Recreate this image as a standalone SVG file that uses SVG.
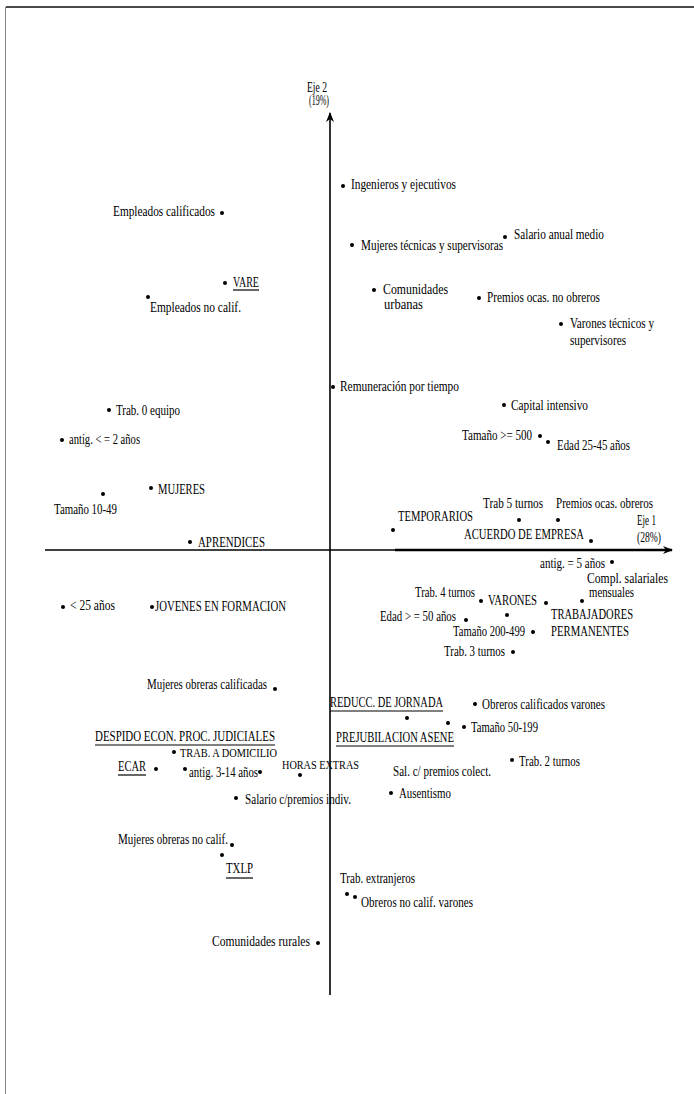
<svg xmlns="http://www.w3.org/2000/svg" width="694" height="1094" viewBox="0 0 694 1094">
<style>
text{font-family:"Liberation Serif","Times New Roman",serif;font-size:14px;fill:#000}
.d{fill:#000}
.u{stroke:#000;stroke-width:1.2}
.s{font-size:13px}
</style>
<defs>
<marker id="ah" viewBox="0 0 10 10" refX="9" refY="5" markerWidth="10" markerHeight="10" markerUnits="userSpaceOnUse" orient="auto"><path d="M0,1 L10,5 L0,9 L3,5 z" fill="#000"/></marker>
</defs>
<rect width="694" height="1094" fill="#fff"/>
<path d="M5.5,1094 V7 H694" fill="none" stroke="#888" stroke-width="1"/>
<path d="M6,7 H694" stroke="#222" stroke-width="1.5"/>
<g id="connectors">
<line x1="330" y1="995" x2="330" y2="113" stroke="#000" stroke-width="1.6" marker-end="url(#ah)"/>
<line x1="45" y1="550" x2="395" y2="550" stroke="#000" stroke-width="1.5"/>
<line x1="395" y1="550" x2="672" y2="550" stroke="#000" stroke-width="2.5" marker-end="url(#ah)"/>
</g>
<g id="eje2"><text x="307" y="92" textLength="20" lengthAdjust="spacingAndGlyphs">Eje 2</text><text x="309" y="105" textLength="20" lengthAdjust="spacingAndGlyphs">(19%)</text></g>
<g id="eje1"><text x="637" y="525" textLength="19" lengthAdjust="spacingAndGlyphs">Eje 1</text><text x="637" y="542" textLength="24" lengthAdjust="spacingAndGlyphs">(28%)</text></g>

<g id="p1"><circle class="d" cx="343" cy="186" r="2"/><text x="351" y="189" textLength="105" lengthAdjust="spacingAndGlyphs">Ingenieros y ejecutivos</text></g>
<g id="p2"><text x="113" y="216" textLength="102" lengthAdjust="spacingAndGlyphs">Empleados calificados</text><circle class="d" cx="222" cy="213" r="2"/></g>
<g id="p3"><circle class="d" cx="352" cy="245" r="2"/><text x="361" y="250" textLength="142" lengthAdjust="spacingAndGlyphs">Mujeres técnicas y supervisoras</text></g>
<g id="p4"><circle class="d" cx="505" cy="237" r="2"/><text x="514" y="239" textLength="90" lengthAdjust="spacingAndGlyphs">Salario anual medio</text></g>
<g id="p5"><circle class="d" cx="225" cy="283" r="2"/><text x="233" y="287" textLength="26" lengthAdjust="spacingAndGlyphs">VARE</text><line class="u" x1="233" y1="290" x2="259" y2="290"/></g>
<g id="p6"><circle class="d" cx="148" cy="297" r="2"/><text x="150" y="312" textLength="91" lengthAdjust="spacingAndGlyphs">Empleados no calif.</text></g>
<g id="p7"><circle class="d" cx="374" cy="290" r="2"/><text x="383" y="294" textLength="65" lengthAdjust="spacingAndGlyphs">Comunidades</text><text x="384" y="309" textLength="39" lengthAdjust="spacingAndGlyphs">urbanas</text></g>
<g id="p8"><circle class="d" cx="479" cy="298" r="2"/><text x="487" y="302" textLength="113" lengthAdjust="spacingAndGlyphs">Premios ocas. no obreros</text></g>
<g id="p9"><circle class="d" cx="561" cy="324" r="2"/><text x="570" y="328" textLength="84" lengthAdjust="spacingAndGlyphs">Varones técnicos y</text><text x="570" y="345" textLength="56" lengthAdjust="spacingAndGlyphs">supervisores</text></g>
<g id="p10"><circle class="d" cx="333" cy="387" r="2"/><text x="340" y="391" textLength="119" lengthAdjust="spacingAndGlyphs">Remuneración por tiempo</text></g>
<g id="p11"><circle class="d" cx="504" cy="405" r="2"/><text x="511" y="410" textLength="77" lengthAdjust="spacingAndGlyphs">Capital intensivo</text></g>
<g id="p12"><circle class="d" cx="109" cy="410" r="2"/><text x="116" y="415" textLength="64" lengthAdjust="spacingAndGlyphs">Trab. 0 equipo</text></g>
<g id="p13"><circle class="d" cx="62" cy="440" r="2"/><text x="69" y="444" textLength="71" lengthAdjust="spacingAndGlyphs">antig. &lt; = 2 años</text></g>
<g id="p14"><text x="462" y="440" textLength="70" lengthAdjust="spacingAndGlyphs">Tamaño &gt;= 500</text><circle class="d" cx="540" cy="436" r="2"/></g>
<g id="p15"><circle class="d" cx="548" cy="442" r="2"/><text x="557" y="450" textLength="73" lengthAdjust="spacingAndGlyphs">Edad 25-45 años</text></g>
<g id="p16"><circle class="d" cx="151" cy="488" r="2"/><text x="158" y="494" textLength="47" lengthAdjust="spacingAndGlyphs">MUJERES</text></g>
<g id="p17"><circle class="d" cx="103" cy="494" r="2"/><text x="54" y="514" textLength="63" lengthAdjust="spacingAndGlyphs">Tamaño 10-49</text></g>
<g id="p18"><text x="483" y="508" textLength="60" lengthAdjust="spacingAndGlyphs">Trab 5 turnos</text><circle class="d" cx="519" cy="520" r="2"/></g>
<g id="p19"><text x="556" y="508" textLength="97" lengthAdjust="spacingAndGlyphs">Premios ocas. obreros</text><circle class="d" cx="558" cy="520" r="2"/></g>
<g id="p20"><text x="398" y="521" textLength="75" lengthAdjust="spacingAndGlyphs">TEMPORARIOS</text><circle class="d" cx="393" cy="530" r="2"/></g>
<g id="p21"><text x="464" y="539" textLength="120" lengthAdjust="spacingAndGlyphs">ACUERDO DE EMPRESA</text><circle class="d" cx="591" cy="541" r="2"/></g>
<g id="p23"><circle class="d" cx="190" cy="542" r="2"/><text x="198" y="547" textLength="67" lengthAdjust="spacingAndGlyphs">APRENDICES</text></g>
<g id="p24"><text x="540" y="568" textLength="65" lengthAdjust="spacingAndGlyphs">antig. = 5 años</text><circle class="d" cx="612" cy="562" r="2"/></g>
<g id="p25"><text x="587" y="583" textLength="81" lengthAdjust="spacingAndGlyphs">Compl. salariales</text><text x="589" y="597" textLength="45" lengthAdjust="spacingAndGlyphs">mensuales</text><circle class="d" cx="582" cy="601" r="2"/></g>
<g id="p26"><text x="415" y="597" textLength="60" lengthAdjust="spacingAndGlyphs">Trab. 4 turnos</text><circle class="d" cx="481" cy="601" r="2"/></g>
<g id="p27"><text x="488" y="605" textLength="49" lengthAdjust="spacingAndGlyphs">VARONES</text><circle class="d" cx="546" cy="603" r="2"/></g>
<g id="p28"><text x="380" y="621" textLength="76" lengthAdjust="spacingAndGlyphs">Edad &gt; = 50 años</text><circle class="d" cx="466" cy="620" r="2"/></g>
<g id="p29"><circle class="d" cx="507" cy="615" r="2"/><text x="453" y="636" textLength="72" lengthAdjust="spacingAndGlyphs">Tamaño 200-499</text><circle class="d" cx="533" cy="632" r="2"/></g>
<g id="p30"><text x="551" y="619" textLength="82" lengthAdjust="spacingAndGlyphs">TRABAJADORES</text><text x="551" y="636" textLength="78" lengthAdjust="spacingAndGlyphs">PERMANENTES</text></g>
<g id="p31"><text x="444" y="656" textLength="61" lengthAdjust="spacingAndGlyphs">Trab. 3 turnos</text><circle class="d" cx="513" cy="652" r="2"/></g>
<g id="p32"><circle class="d" cx="63" cy="607" r="2"/><text x="70" y="610" textLength="45" lengthAdjust="spacingAndGlyphs">&lt; 25 años</text></g>
<g id="p33"><circle class="d" cx="152" cy="607" r="2"/><text x="155" y="611" textLength="131" lengthAdjust="spacingAndGlyphs">JOVENES EN FORMACION</text></g>
<g id="p34"><text x="147" y="689" textLength="120" lengthAdjust="spacingAndGlyphs">Mujeres obreras calificadas</text><circle class="d" cx="275" cy="689" r="2"/></g>
<g id="p35"><text x="330" y="707" textLength="113" lengthAdjust="spacingAndGlyphs">REDUCC. DE JORNADA</text><line class="u" x1="330" y1="711" x2="443" y2="711"/><circle class="d" cx="407" cy="718" r="2"/></g>
<g id="p36"><circle class="d" cx="475" cy="704" r="2"/><text x="482" y="709" textLength="123" lengthAdjust="spacingAndGlyphs">Obreros calificados varones</text></g>
<g id="p37"><circle class="d" cx="448" cy="723" r="2"/></g>
<g id="p38"><circle class="d" cx="464" cy="727" r="2"/><text x="471" y="732" textLength="67" lengthAdjust="spacingAndGlyphs">Tamaño 50-199</text></g>
<g id="p39"><text x="336" y="742" textLength="118" lengthAdjust="spacingAndGlyphs">PREJUBILACION ASENE</text><line class="u" x1="336" y1="746" x2="454" y2="746"/></g>
<g id="p40"><text x="95" y="741" textLength="180" lengthAdjust="spacingAndGlyphs">DESPIDO ECON. PROC. JUDICIALES</text><line class="u" x1="95" y1="745" x2="275" y2="745"/></g>
<g id="p41"><circle class="d" cx="174" cy="752" r="2"/><text class="s" x="180" y="757" textLength="97" lengthAdjust="spacingAndGlyphs">TRAB. A DOMICILIO</text></g>
<g id="p42"><text x="118" y="771" textLength="28" lengthAdjust="spacingAndGlyphs">ECAR</text><line class="u" x1="118" y1="775" x2="146" y2="775"/><circle class="d" cx="156" cy="769" r="2"/></g>
<g id="p43"><circle class="d" cx="185" cy="769" r="2"/><text x="189" y="777" textLength="69" lengthAdjust="spacingAndGlyphs">antig. 3-14 años</text><circle class="d" cx="260" cy="772" r="2"/></g>
<g id="p44"><text class="s" x="282" y="769" textLength="77" lengthAdjust="spacingAndGlyphs">HORAS EXTRAS</text><circle class="d" cx="300" cy="775" r="2"/></g>
<g id="p45"><text x="393" y="776" textLength="98" lengthAdjust="spacingAndGlyphs">Sal. c/ premios colect.</text></g>
<g id="p46"><circle class="d" cx="512" cy="760" r="2"/><text x="519" y="766" textLength="61" lengthAdjust="spacingAndGlyphs">Trab. 2 turnos</text></g>
<g id="p47"><circle class="d" cx="391" cy="793" r="2"/><text x="399" y="798" textLength="52" lengthAdjust="spacingAndGlyphs">Ausentismo</text></g>
<g id="p48"><circle class="d" cx="236" cy="798" r="2"/><text x="245" y="804" textLength="106" lengthAdjust="spacingAndGlyphs">Salario c/premios indiv.</text></g>
<g id="p49"><text x="118" y="844" textLength="110" lengthAdjust="spacingAndGlyphs">Mujeres obreras no calif.</text><circle class="d" cx="232" cy="845" r="2"/></g>
<g id="p50"><circle class="d" cx="222" cy="855" r="2"/><text x="226" y="873" textLength="27" lengthAdjust="spacingAndGlyphs">TXLP</text><line class="u" x1="226" y1="878" x2="253" y2="878"/></g>
<g id="p51"><text x="340" y="883" textLength="75" lengthAdjust="spacingAndGlyphs">Trab. extranjeros</text><circle class="d" cx="347" cy="894" r="2"/></g>
<g id="p52"><circle class="d" cx="355" cy="897" r="2"/><text x="361" y="907" textLength="112" lengthAdjust="spacingAndGlyphs">Obreros no calif. varones</text></g>
<g id="p53"><text x="212" y="946" textLength="98" lengthAdjust="spacingAndGlyphs">Comunidades rurales</text><circle class="d" cx="318" cy="943" r="2"/></g>
</svg>
